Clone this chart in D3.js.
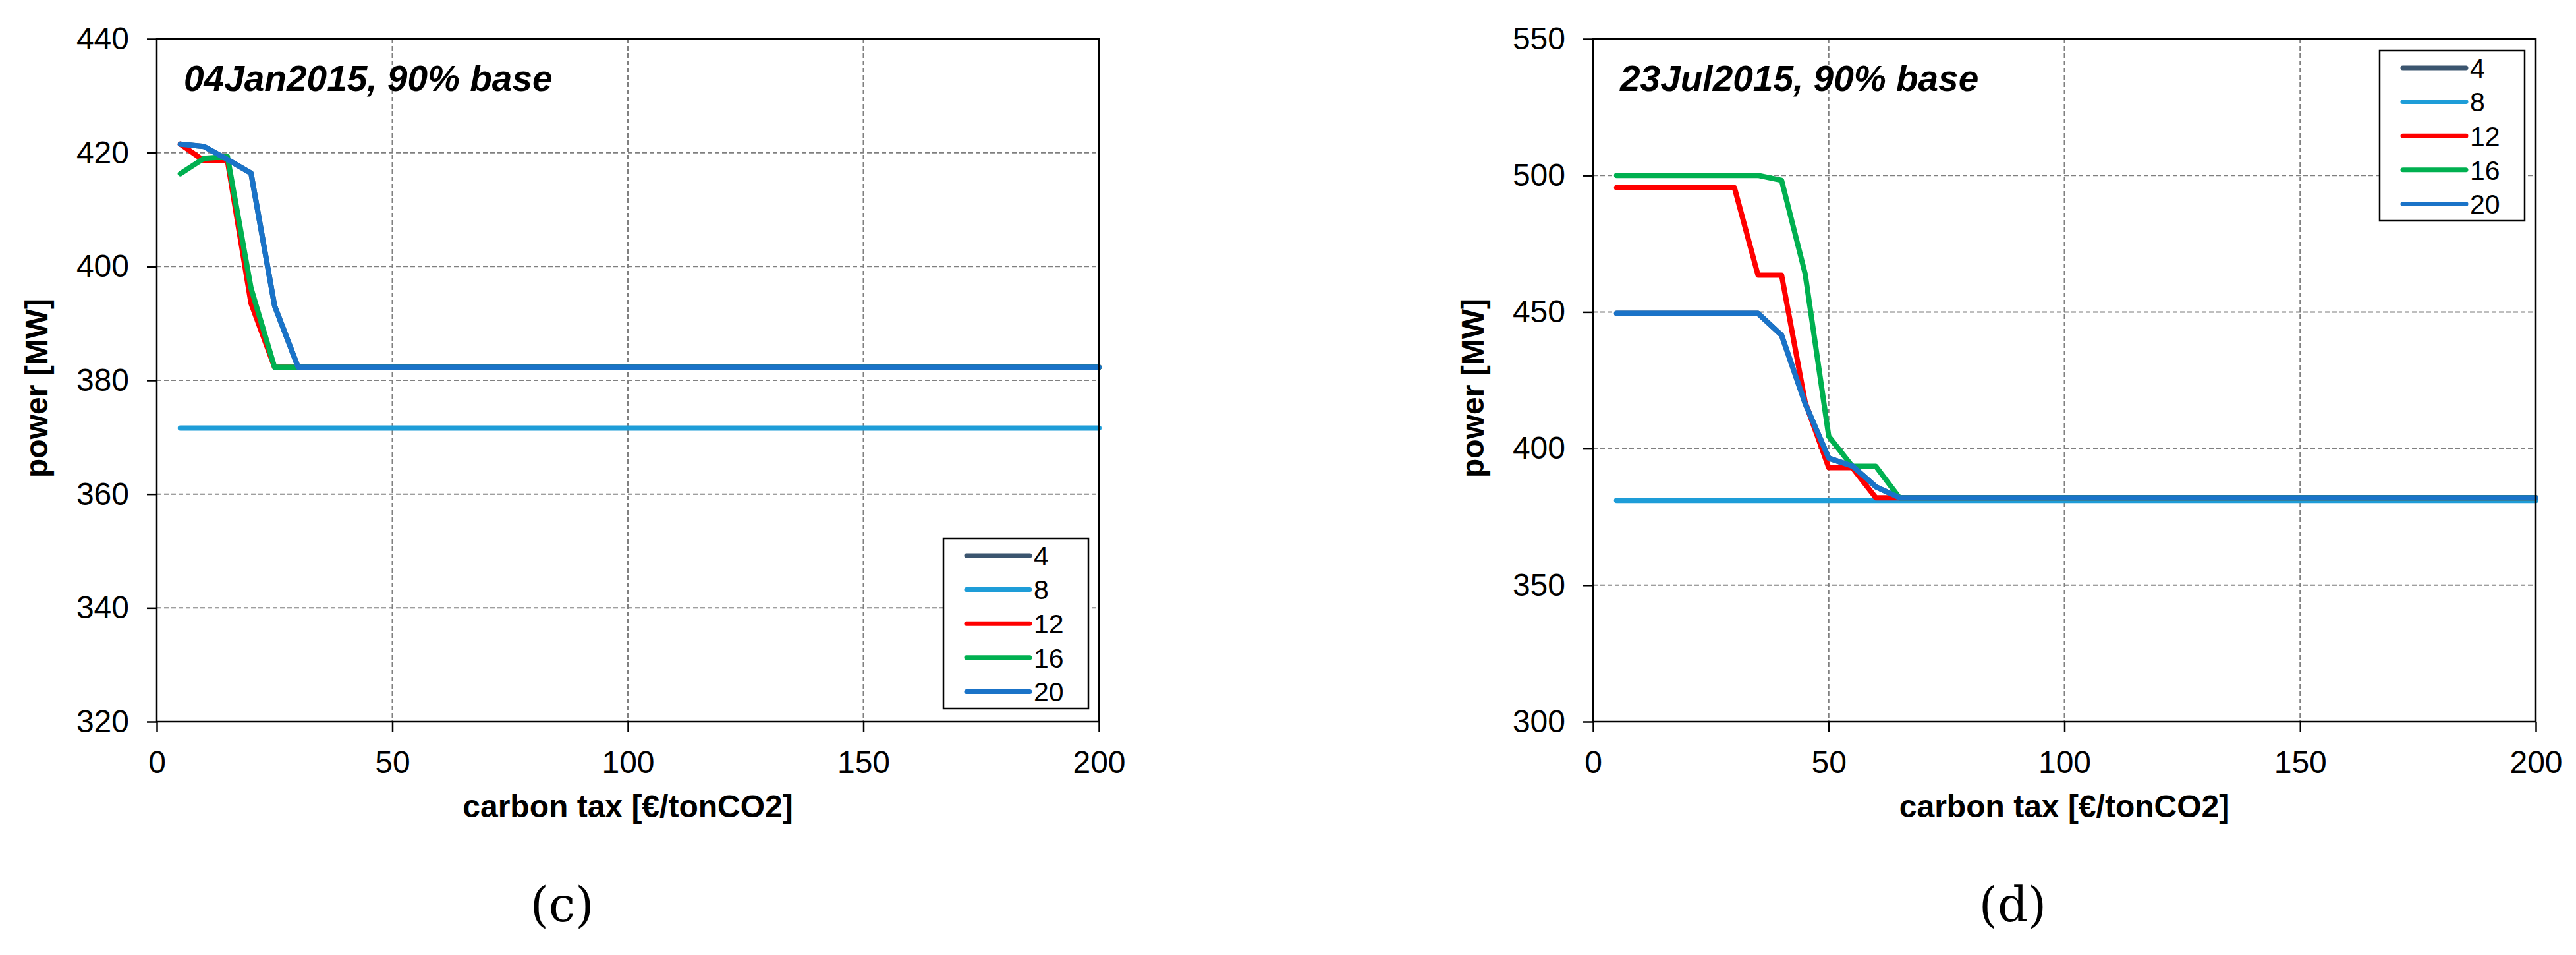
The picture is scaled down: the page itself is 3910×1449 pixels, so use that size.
<!DOCTYPE html>
<html><head><meta charset="utf-8">
<script src="https://cdn.jsdelivr.net/npm/d3@7"></script>
<style>html,body{margin:0;padding:0;background:#fff;} svg{display:block;}</style>
</head><body><svg id="c" width="3910" height="1449"></svg>
<script>
// ---------------- data ----------------
const taxes = [5,10,15,20,25,30,35,40,45,50,55,60,65,70,75,80,85,90,95,100,
               105,110,115,120,125,130,135,140,145,150,155,160,165,170,175,180,185,190,195,200];
const seriesNames = ["4","8","12","16","20"];
const seriesColors = ["#3b556f","#1e9dd8","#ff0000","#00b050","#1a73c8"];
const xTicks = [0,50,100,150,200];
const janYTicks = [320,340,360,380,400,420,440];
const julYTicks = [300,350,400,450,500,550];
const janTitle = "04Jan2015, 90% base";
const julTitle = "23Jul2015, 90% base";
const panelLabels = ["(c)","(d)"];
const xTitle = "carbon tax [€/tonCO2]";
const yTitle = "power [MW]";

// 04 Jan 2015
const jan4  = [421.5,421.1,418.8,416.4,393.1,382.3,382.3,382.3,382.3,382.3,382.3,382.3,382.3,382.3,382.3,382.3,382.3,382.3,382.3,382.3,
               382.3,382.3,382.3,382.3,382.3,382.3,382.3,382.3,382.3,382.3,382.3,382.3,382.3,382.3,382.3,382.3,382.3,382.3,382.3,382.3];
const jan8  = [371.6,371.6,371.6,371.6,371.6,371.6,371.6,371.6,371.6,371.6,371.6,371.6,371.6,371.6,371.6,371.6,371.6,371.6,371.6,371.6,
               371.6,371.6,371.6,371.6,371.6,371.6,371.6,371.6,371.6,371.6,371.6,371.6,371.6,371.6,371.6,371.6,371.6,371.6,371.6,371.6];
const jan12 = [421.5,418.6,418.6,393.5,382.3,382.3,382.3,382.3,382.3,382.3,382.3,382.3,382.3,382.3,382.3,382.3,382.3,382.3,382.3,382.3,
               382.3,382.3,382.3,382.3,382.3,382.3,382.3,382.3,382.3,382.3,382.3,382.3,382.3,382.3,382.3,382.3,382.3,382.3,382.3,382.3];
const jan16 = [416.3,419.0,419.3,396.2,382.3,382.3,382.3,382.3,382.3,382.3,382.3,382.3,382.3,382.3,382.3,382.3,382.3,382.3,382.3,382.3,
               382.3,382.3,382.3,382.3,382.3,382.3,382.3,382.3,382.3,382.3,382.3,382.3,382.3,382.3,382.3,382.3,382.3,382.3,382.3,382.3];
const jan20 = [421.5,421.1,418.8,416.4,393.1,382.3,382.3,382.3,382.3,382.3,382.3,382.3,382.3,382.3,382.3,382.3,382.3,382.3,382.3,382.3,
               382.3,382.3,382.3,382.3,382.3,382.3,382.3,382.3,382.3,382.3,382.3,382.3,382.3,382.3,382.3,382.3,382.3,382.3,382.3,382.3];

// 23 Jul 2015
const jul4  = [449.5,449.5,449.5,449.5,449.5,449.5,449.5,441.5,416.5,396.5,393.6,386.0,382.0,382.0,382.0,382.0,382.0,382.0,382.0,382.0,
               382.0,382.0,382.0,382.0,382.0,382.0,382.0,382.0,382.0,382.0,382.0,382.0,382.0,382.0,382.0,382.0,382.0,382.0,382.0,382.0];
const jul8  = [381.0,381.0,381.0,381.0,381.0,381.0,381.0,381.0,381.0,381.0,381.0,381.0,381.0,381.0,381.0,381.0,381.0,381.0,381.0,381.0,
               381.0,381.0,381.0,381.0,381.0,381.0,381.0,381.0,381.0,381.0,381.0,381.0,381.0,381.0,381.0,381.0,381.0,381.0,381.0,381.0];
const jul12 = [495.5,495.5,495.5,495.5,495.5,495.5,463.5,463.5,417.0,393.0,393.0,382.0,382.0,382.0,382.0,382.0,382.0,382.0,382.0,382.0,
               382.0,382.0,382.0,382.0,382.0,382.0,382.0,382.0,382.0,382.0,382.0,382.0,382.0,382.0,382.0,382.0,382.0,382.0,382.0,382.0];
const jul16 = [500.0,500.0,500.0,500.0,500.0,500.0,500.0,498.2,464.0,404.5,393.5,393.5,382.0,382.0,382.0,382.0,382.0,382.0,382.0,382.0,
               382.0,382.0,382.0,382.0,382.0,382.0,382.0,382.0,382.0,382.0,382.0,382.0,382.0,382.0,382.0,382.0,382.0,382.0,382.0,382.0];
const jul20 = [449.5,449.5,449.5,449.5,449.5,449.5,449.5,441.5,416.5,396.5,393.6,386.0,382.0,382.0,382.0,382.0,382.0,382.0,382.0,382.0,
               382.0,382.0,382.0,382.0,382.0,382.0,382.0,382.0,382.0,382.0,382.0,382.0,382.0,382.0,382.0,382.0,382.0,382.0,382.0,382.0];

// ---------------- drawing ----------------
const SANS = "'Liberation Sans', Arial, Helvetica, sans-serif";
const svg = d3.select("#c");
svg.append("rect").attr("width",3910).attr("height",1449).attr("fill","#fff");

function drawPanel(o){
  const x = d3.scaleLinear().domain([0,200]).range([o.left,o.right]);
  const y = d3.scaleLinear().domain([o.yTicks[0],o.yTicks[o.yTicks.length-1]]).range([o.bottom,o.top]);
  const g = svg.append("g");

  // grid
  g.selectAll("line.gx").data(xTicks.slice(1,-1)).join("line").attr("class","gx")
    .attr("x1",d=>x(d)).attr("x2",d=>x(d)).attr("y1",o.top).attr("y2",o.bottom)
    .attr("stroke","#808080").attr("stroke-width",2).attr("stroke-dasharray","7,4");
  g.selectAll("line.gy").data(o.yTicks.slice(1,-1)).join("line").attr("class","gy")
    .attr("y1",d=>y(d)).attr("y2",d=>y(d)).attr("x1",o.left).attr("x2",o.right)
    .attr("stroke","#808080").attr("stroke-width",2).attr("stroke-dasharray","7,4");

  // series
  const line = d3.line().x((d,i)=>x(taxes[i])).y(d=>y(d));
  o.series.forEach((s,k)=>{
    g.append("path").attr("d",line(s)).attr("fill","none")
      .attr("stroke",seriesColors[k]).attr("stroke-width",8)
      .attr("stroke-linejoin","round").attr("stroke-linecap","round");
  });

  // frame
  g.append("rect").attr("x",o.left).attr("y",o.top)
    .attr("width",o.right-o.left).attr("height",o.bottom-o.top)
    .attr("fill","none").attr("stroke","#000").attr("stroke-width",2.5);

  // axes
  const styleAxis = s=>{
    s.select(".domain").remove();
    s.selectAll("line").attr("stroke","#000").attr("stroke-width",2.5);
    s.selectAll("text").attr("font-family",SANS).attr("font-size",48).attr("fill","#000");
  };
  g.append("g").attr("transform",`translate(${o.left},0)`)
    .call(d3.axisLeft(y).tickValues(o.yTicks).tickSize(15).tickPadding(27).tickFormat(d3.format("d")))
    .call(styleAxis);
  g.append("g").attr("transform",`translate(0,${o.bottom})`)
    .call(d3.axisBottom(x).tickValues(xTicks).tickSize(15).tickPadding(29).tickFormat(d3.format("d")))
    .call(styleAxis);

  // titles
  g.append("text").attr("x",o.left+41).attr("y",138)
    .attr("font-family",SANS).attr("font-size",55).attr("font-weight","bold").attr("font-style","italic")
    .text(o.title);
  g.append("text").attr("x",(o.left+o.right)/2).attr("y",1240).attr("text-anchor","middle")
    .attr("font-family",SANS).attr("font-size",48).attr("font-weight","bold").text(xTitle);
  g.append("text").attr("transform",`translate(${o.left-183},${(o.top+o.bottom)/2+12}) rotate(-90)`)
    .attr("text-anchor","middle").attr("dy","0.35em")
    .attr("font-family",SANS).attr("font-size",48).attr("font-weight","bold").text(yTitle);

  // legend
  const lg = g.append("g").attr("transform",`translate(${o.legX},${o.legY})`);
  lg.append("rect").attr("width",220).attr("height",258).attr("fill","#fff")
    .attr("stroke","#000").attr("stroke-width",2.5);
  seriesNames.forEach((n,k)=>{
    const yy = 26 + k*51.6;
    lg.append("line").attr("x1",35).attr("x2",131).attr("y1",yy).attr("y2",yy)
      .attr("stroke",seriesColors[k]).attr("stroke-width",7).attr("stroke-linecap","round");
    lg.append("text").attr("x",137).attr("y",yy).attr("dy","0.36em")
      .attr("font-family",SANS).attr("font-size",41).text(n);
  });

  // panel label
  svg.append("text").attr("x",o.labX).attr("y",1398).attr("text-anchor","middle")
    .attr("font-family","'DejaVu Serif','Liberation Serif',serif").attr("font-size",72)
    .text(o.label);
}

drawPanel({left:238,right:1668,top:59,bottom:1095,yTicks:janYTicks,title:janTitle,
  series:[jan4,jan8,jan12,jan16,jan20],legX:1432,legY:817,label:panelLabels[0],labX:853});
drawPanel({left:2418,right:3849,top:59,bottom:1095,yTicks:julYTicks,title:julTitle,
  series:[jul4,jul8,jul12,jul16,jul20],legX:3612,legY:77,label:panelLabels[1],labX:3055});
</script>
</body></html>
